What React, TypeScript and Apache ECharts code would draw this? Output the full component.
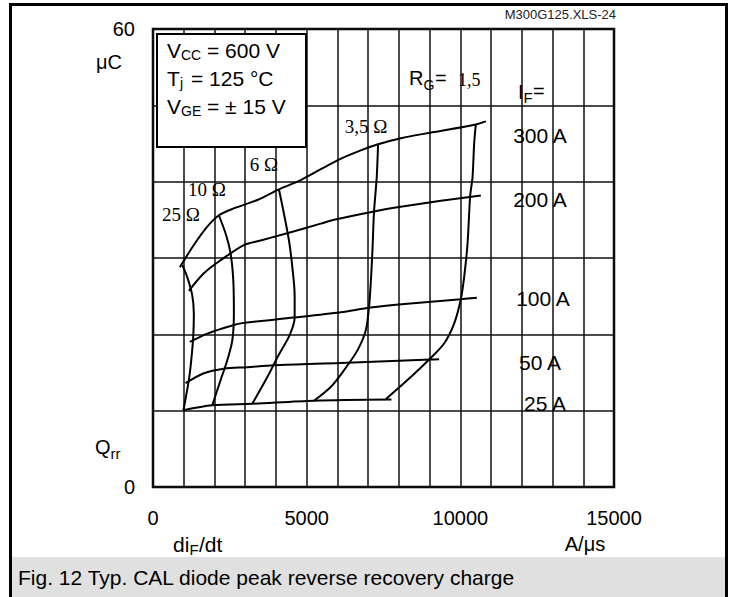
import React, { useEffect, useRef } from 'react';
import * as echarts from 'echarts';

// Tick labels shown on the axes
const xTickLabels = [0, 5000, 10000, 15000];
const yTickLabels = [0, 60];

// Forward-current curves (di/dt in A/µs, Qrr in µC)
const if300: [number, number][] = [[873, 28.8], [1329, 31.7], [1765, 34.1], [2143, 35.6], [2632, 36.5], [3394, 37.6], [4098, 39.0], [4805, 40.2], [6000, 42.8], [6759, 44.1], [7323, 44.9], [8062, 45.7], [9147, 46.5], [10505, 47.5], [10831, 47.9]];
const if200: [number, number][] = [[1166, 25.7], [1655, 28.0], [2199, 29.7], [2958, 31.7], [3502, 32.3], [4423, 33.3], [5456, 34.5], [5889, 35.0], [7192, 36.1], [8062, 36.7], [9365, 37.5], [10668, 38.2]];
const if100: [number, number][] = [[1199, 19.0], [1765, 20.1], [2524, 21.1], [2958, 21.5], [4586, 22.2], [6107, 22.9], [7085, 23.5], [8280, 24.0], [10016, 24.6], [10537, 24.8]];
const if50: [number, number][] = [[1059, 13.6], [1655, 14.9], [2306, 15.5], [3068, 15.7], [3935, 15.95], [6107, 16.25], [9039, 16.7], [9309, 16.74]];
const if25: [number, number][] = [[984, 10.05], [1928, 10.7], [3231, 10.9], [5238, 11.3], [7759, 11.45]];

// Gate-resistance curves
const rg25: [number, number][] = [[951, 29.06], [1114, 27.5], [1277, 25.1], [1329, 22.7], [1309, 19.7], [1244, 16.6], [1166, 14.0], [990, 10.05]];
const rg10: [number, number][] = [[2143, 35.6], [2362, 33.2], [2524, 30.6], [2612, 27.1], [2632, 22.7], [2580, 19.2], [2417, 16.6], [2199, 14.0], [1928, 10.7]];
const rg6: [number, number][] = [[4098, 39.0], [4261, 35.8], [4423, 32.3], [4534, 28.8], [4609, 25.1], [4609, 22.2], [4446, 19.9], [4088, 17.3], [3720, 14.4], [3231, 10.9]];
const rg35: [number, number][] = [[7323, 44.9], [7280, 40.6], [7192, 36.1], [7140, 31.0], [7085, 26.7], [7029, 23.6], [6922, 20.5], [6651, 17.9], [6215, 15.3], [5782, 13.1], [5238, 11.3]];
const rg15: [number, number][] = [[10505, 47.5], [10450, 45.0], [10397, 40.6], [10319, 38.1], [10235, 31.9], [10124, 27.5], [10016, 24.6], [9798, 21.4], [9472, 18.8], [8984, 16.7], [8388, 14.4], [7573, 11.5]];

const curves = [if300, if200, if100, if50, if25, rg25, rg10, rg6, rg35, rg15];
const curveNames = ['IF300', 'IF200', 'IF100', 'IF50', 'IF25', 'RG25', 'RG10', 'RG6', 'RG3.5', 'RG1.5'];

const SANS = 'Liberation Sans, Arial, sans-serif';
const SERIF = 'Liberation Serif, Times New Roman, serif';

function t(text: string, x: number, y: number, size: number, opts: any = {}) {
  return {
    type: 'text',
    z: 1,
    silent: true,
    style: {
      text,
      x,
      y,
      fill: opts.color ?? '#000',
      font: `${size}px ${opts.serif ? SERIF : SANS}`,
      align: opts.align ?? 'left',
      verticalAlign: 'middle',
    },
  };
}

export default function App() {
  const ref = useRef<HTMLDivElement>(null);
  useEffect(() => {
    const chart = echarts.init(ref.current!, null, { renderer: 'svg' });
    const series = curves.map((d, i) => ({
      type: 'line',
      name: curveNames[i],
      data: d,
      smooth: 0.3,
      symbol: 'none',
      silent: true,
      lineStyle: { color: '#000', width: 2 },
    }));
    const graphic: any[] = [
      { type: 'rect', z: 1, silent: true, shape: { x: 12, y: 557, width: 713, height: 45 }, style: { fill: '#e0e0e0' } },
      { type: 'line', z: 1, silent: true, shape: { x1: 9, y1: 4.5, x2: 728, y2: 4.5 }, style: { stroke: '#000', lineWidth: 3 } },
      { type: 'line', z: 1, silent: true, shape: { x1: 10.5, y1: 4, x2: 10.5, y2: 600 }, style: { stroke: '#000', lineWidth: 3 } },
      { type: 'line', z: 1, silent: true, shape: { x1: 726.5, y1: 4, x2: 726.5, y2: 600 }, style: { stroke: '#000', lineWidth: 3 } },
      t('Fig. 12 Typ. CAL diode peak reverse recovery charge', 18, 577, 21),
      t('M300G125.XLS-24', 616, 14, 13, { align: 'right', color: '#222' }),
      { type: 'rect', z: 1, silent: true, shape: { x: 157, y: 34, width: 149, height: 113 }, style: { fill: '#fff', stroke: '#000', lineWidth: 2 } },
      t('V', 167, 50, 21), t('CC', 181, 55, 14), t('= 600 V', 207, 50, 21),
      t('T', 167, 78, 21), t('j', 180, 83, 14), t('= 125 °C', 191, 78, 21),
      t('V', 167, 106, 21), t('GE', 181, 111, 14), t('= ± 15 V', 207, 106, 21),
      t('μC', 109, 62, 20, { align: 'center' }),
      t('Q', 95, 447, 20), t('rr', 110.6, 453, 15),
      t('d', 173, 544, 21), t('i', 184.7, 544, 21), t('F', 189.5, 549, 15), t('/dt', 199, 544, 21),
      t('A/μs', 585, 544, 20, { align: 'center' }),
      t('25 Ω', 181, 214, 19, { serif: true, align: 'center' }),
      t('10 Ω', 207, 189, 19, { serif: true, align: 'center' }),
      t('6 Ω', 264, 164, 19, { serif: true, align: 'center' }),
      t('3,5 Ω', 366, 126, 19, { serif: true, align: 'center' }),
      t('R', 409, 78, 20), t('G', 423.4, 85, 14), t('=', 435, 78, 20), t('1,5', 458, 80, 18, { serif: true }),
      t('I', 518, 91.5, 20), t('F', 523.6, 97, 15), t('=', 533, 91, 20),
      t('300 A', 540, 135, 21, { align: 'center' }),
      t('200 A', 540, 199, 21, { align: 'center' }),
      t('100 A', 543, 298, 21, { align: 'center' }),
      t('50 A', 540, 362, 21, { align: 'center' }),
      t('25 A', 545, 403, 21, { align: 'center' }),
    ];
    chart.setOption({
      animation: false,
      backgroundColor: '#fff',
      grid: { left: 153, top: 29, right: 121, bottom: 110, show: true, borderColor: '#000', borderWidth: 2.5 },
      xAxis: {
        type: 'value',
        min: 0,
        max: 15000,
        interval: 1000,
        axisLine: { show: false },
        axisTick: { show: false },
        splitLine: { show: true, lineStyle: { color: '#111', width: 1.5 } },
        axisLabel: {
          margin: 21,
          color: '#000',
          fontSize: 20,
          fontFamily: SANS,
          formatter: (v: number) => (xTickLabels.includes(v) ? String(v) : ''),
        },
      },
      yAxis: {
        type: 'value',
        min: 0,
        max: 60,
        interval: 10,
        axisLine: { show: false },
        axisTick: { show: false },
        splitLine: { show: true, lineStyle: { color: '#111', width: 1.5 } },
        axisLabel: {
          margin: 18,
          color: '#000',
          fontSize: 20,
          fontFamily: SANS,
          formatter: (v: number) => (yTickLabels.includes(v) ? String(v) : ''),
        },
      },
      series,
      graphic,
    });
    return () => chart.dispose();
  }, []);
  return <div ref={ref} style={{ position: 'fixed', left: 0, top: 0, width: 735, height: 597, pointerEvents: 'none' }} />;
}
